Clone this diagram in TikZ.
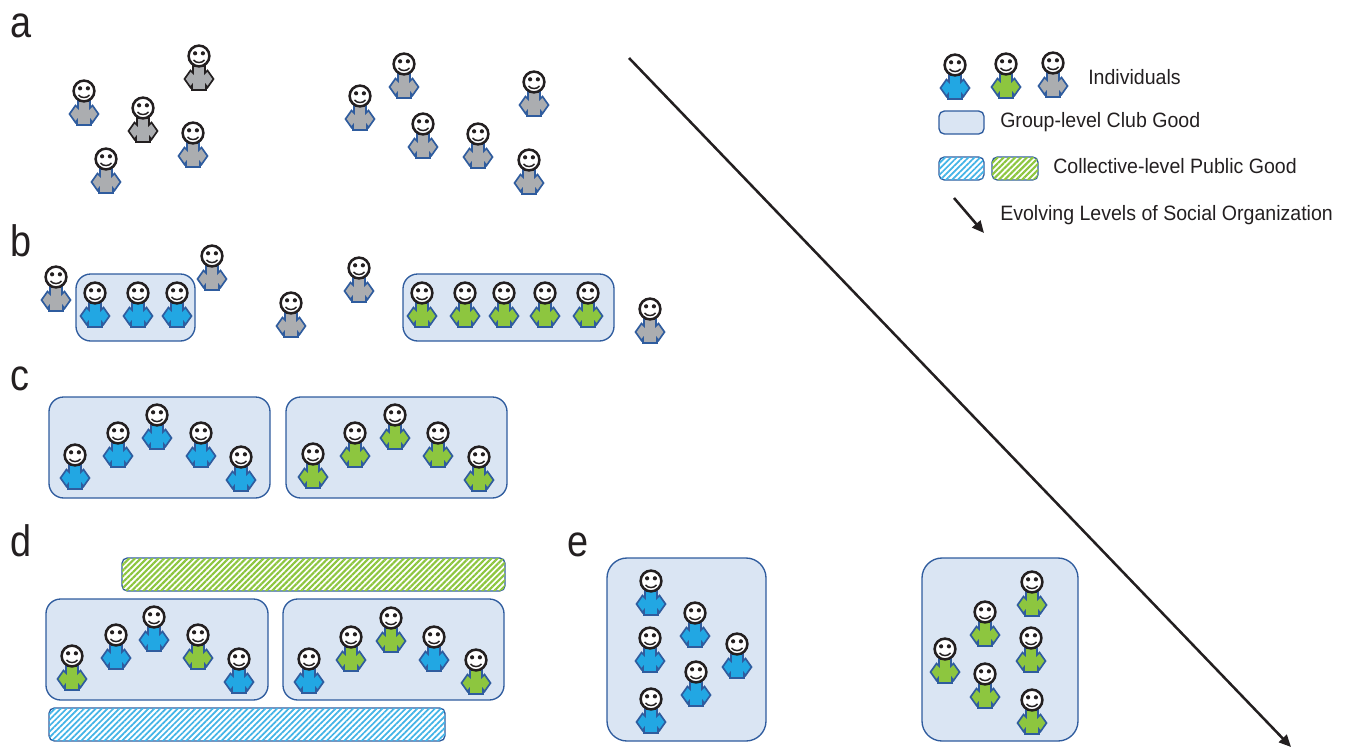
\documentclass[tikz,border=0pt]{standalone}
\usepackage{fontspec}
\setmainfont[FakeStretch=0.94]{Liberation Sans}
\newfontfamily\panelfont[FakeStretch=0.86]{Liberation Sans}
\usetikzlibrary{patterns.meta,arrows.meta}
\definecolor{pblue}{HTML}{22A7E3}
\definecolor{pgreen}{HTML}{8DC63F}
\definecolor{pgray}{HTML}{ABADB0}
\definecolor{outl}{HTML}{2F5C9E}
\definecolor{boxfill}{HTML}{DAE5F3}
\definecolor{ink}{HTML}{231F20}
\tikzset{
  x=0.75pt,y=-0.75pt,
  person/.pic={
    \draw[line width=1.25pt,pic actions,line join=miter]
      (-6,10)--(6,10)--(6,17)--(8.5,14.5)--(14.5,23)--(8.5,31.5)--(7,29.5)--(7,34)--(-7,34)--(-7,29.5)--(-8.5,31.5)--(-14.5,23)--(-8.5,14.5)--(-6,17)--cycle;
    \draw[ink,line width=1.9pt,fill=white] (0,0) circle[radius=10.4];
    \fill[ink] (-3.9,-2.7) circle[radius=2.1] (3.9,-2.7) circle[radius=2.1];
    \draw[ink,line width=1.1pt] (-5.5,4) .. controls (-3,7.4) and (3,7.4) .. (5.5,4);
  },
  blueperson/.style={fill=pblue,draw=outl},
  greenperson/.style={fill=pgreen,draw=outl},
  grayperson/.style={fill=pgray,draw=outl},
  darkperson/.style={fill=pgray,draw=ink},
  clubbox/.style={draw=outl,fill=boxfill,line width=1pt,rounded corners=11pt},
  hatchblue/.style={draw=outl,line width=1pt,rounded corners=4pt,fill=white,
    postaction={pattern={Lines[angle=45,distance=3.1pt,line width=1.3pt]},pattern color=pblue!85}},
  hatchgreen/.style={draw=outl,line width=1pt,rounded corners=4pt,fill=white,
    postaction={pattern={Lines[angle=45,distance=3.1pt,line width=1.6pt]},pattern color=pgreen}},
  panel/.style={font=\panelfont\fontsize{33}{33}\selectfont,text=ink,inner sep=0pt,anchor=base west},
  legend/.style={font=\fontsize{15.6}{18}\selectfont,text=ink,anchor=base west,inner sep=0pt},
  bigarrow/.style={draw=ink,line width=1.9pt,-{Triangle[length=9pt,width=8pt]}},
}
\newcommand{\people}[2]{\foreach \px/\py in {#2} \pic[#1] at (\px,\py) {person};}
\begin{document}
\begin{tikzpicture}
\useasboundingbox (0,0) rectangle (1348,746);
% panel labels
\node[panel] (la) at (10,37) {a};
\node[panel] (lb) at (10,256) {b};
\node[panel] (lc) at (10,390) {c};
\node[panel] (ld) at (10,556) {d};
\node[panel] (le) at (567,556) {e};
% boxes
\draw[clubbox] (76,274) rectangle (195,341);
\draw[clubbox] (403,274) rectangle (614,341);
\draw[clubbox] (49,397) rectangle (270,498);
\draw[clubbox] (286,397) rectangle (507,498);
\draw[clubbox] (46,599) rectangle (268,700);
\draw[clubbox] (283,599) rectangle (504,700);
\draw[clubbox,rounded corners=15pt] (607,558) rectangle (766,741);
\draw[clubbox,rounded corners=15pt] (922,558) rectangle (1078,741);
\draw[hatchgreen] (122,558) rectangle (505,591);
\draw[hatchblue] (49,708) rectangle (445,741);
% panel a
\people{grayperson}{84/91,193/133,106/159,360/96,404/64,534/82,423/124,478/134,529/160}
\people{darkperson}{199/56,143/108}
% panel b
\people{grayperson}{56/277,212/256,291/303,359/268,650/309}
\people{blueperson}{95/293,138/293,177/293}
\people{greenperson}{422/293,465/293,504/293,545/293,588/293}
% panel c
\people{blueperson}{75/455,118/433,157/415,201/433,241/457}
\people{greenperson}{313/454,355/433,395/415,438/433,479/457}
% panel d
\people{blueperson}{116/635,154/617,239/659,309/659,434/637}
\people{greenperson}{72/656,198/635,351/637,391/618,476/660}
% panel e
\people{blueperson}{651/581,695/613,650/638,737/644,696/672,651/699}
\people{greenperson}{1032/582,985/612,1031/638,945/649,985/674,1032/700}
% main arrow
\coordinate (mainstart) at (629,58);
\coordinate (mainend) at (1291,747);
\draw[bigarrow] (mainstart) -- (mainend);
% legend
\pic[blueperson] at (955,65) {person};
\pic[greenperson] at (1006,64) {person};
\pic[grayperson] at (1053,63) {person};
\node[legend] (t1) at (1088,84) {Individuals};
\draw[clubbox,rounded corners=4pt] (939,111) rectangle (984,134);
\node[legend] (t2) at (1000,127) {Group-level Club Good};
\draw[hatchblue] (939,157) rectangle (984,180);
\draw[hatchgreen] (992,157) rectangle (1038,180);
\node[legend] (t3) at (1053,173) {Collective-level Public Good};
\coordinate (legstart) at (954,198);
\coordinate (legend) at (984,233);
\draw[bigarrow] (legstart) -- (legend);
\node[legend] (t4) at (1000,220) {Evolving Levels of Social Organization};
\end{tikzpicture}
\end{document}
